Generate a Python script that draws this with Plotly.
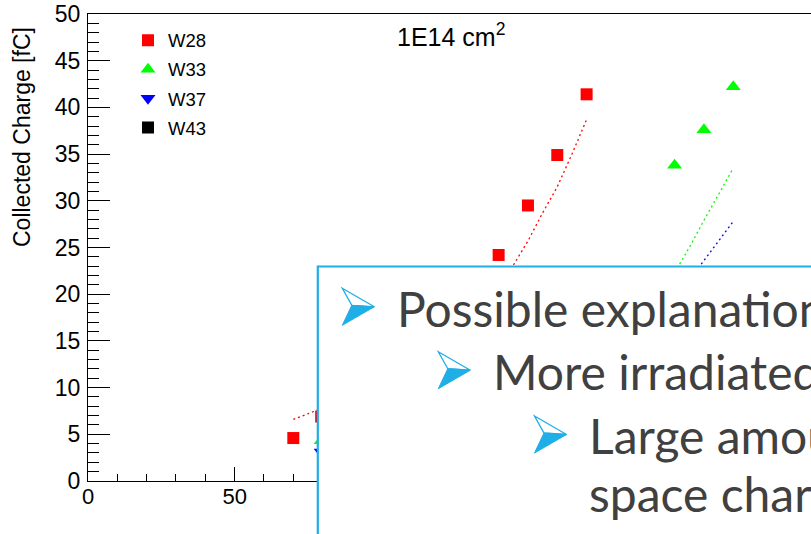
import plotly.graph_objects as go

# ---------------- data ----------------
series_names = ["W28", "W33", "W37", "W43"]
series_colors = ["#ff0000", "#00ff00", "#0000ff", "#000000"]
series_symbols = ["square", "triangle-up", "triangle-down", "square"]

x_w28 = [70, 79.5, 140, 150, 160, 170]
y_w28 = [4.6, 6.9, 24.2, 29.5, 34.9, 41.4]
x_w33 = [79.5, 200, 210, 220]
y_w33 = [4.3, 33.8, 37.6, 42.2]
x_w37 = [79.5]
y_w37 = [3.1]
x_w43 = [100]
y_w43 = [2.8]

sim_x_w28 = [70, 75, 80, 145, 150, 155, 160, 165, 170]
sim_y_w28 = [6.6, 7.2, 7.8, 23.1, 25.7, 28.7, 31.5, 35.0, 38.7]
sim_x_w33 = [200, 205, 210, 215, 220]
sim_y_w33 = [22.3, 25.0, 27.9, 30.7, 33.5]
sim_x_w37 = [205, 210, 215, 220]
sim_y_w37 = [21.5, 23.6, 25.7, 27.8]

title_text = "1E14 cm<sup>2</sup>"
y_title = "Collected Charge [fC]"
x_tick_vals = [0, 50, 100, 150, 200]
y_tick_vals = [0, 5, 10, 15, 20, 25, 30, 35, 40, 45, 50]

box_lines = [
    "Possible explanation:",
    "More irradiated sensors",
    "Large amount of",
    "space charge",
]

# ---------------- layout helpers ----------------
W, H = 811, 534
ML, MR, MT, MB = 88, 0, 14, 53
PW = W - ML - MR
PH = H - MT - MB
X_PER_PX = 1 / 2.933


def px(x):
    return (x - ML) / PW


def py(y):
    return (H - MB - y) / PH


FONT = "Liberation Sans, Arial, Helvetica, sans-serif"
BLUE = "#1faee6"
GREY = "#404040"

fig = go.Figure()

series = [(x_w28, y_w28), (x_w33, y_w33), (x_w37, y_w37), (x_w43, y_w43)]
for (xs, ys), name, col, sym in zip(series, series_names, series_colors, series_symbols):
    fig.add_trace(go.Scatter(
        x=xs, y=ys, mode="markers", name=name, legendgroup=name,
        marker=dict(symbol=sym, color=col, size=12 if sym == "square" else 13,
                    line=dict(width=0)),
    ))

sims = [(sim_x_w28, sim_y_w28, series_colors[0]),
        (sim_x_w33, sim_y_w33, series_colors[1]),
        (sim_x_w37, sim_y_w37, series_colors[2])]
for xs, ys, col in sims:
    fig.add_trace(go.Scatter(
        x=xs, y=ys, mode="lines", showlegend=False, hoverinfo="skip",
        line=dict(color=col, width=1.3, dash="2px,3px"),
    ))

shapes = []
# slide text box overlay
shapes.append(dict(type="rect", xref="paper", yref="paper", layer="above",
                   x0=px(317.8), x1=px(830), y0=py(266.5), y1=py(560),
                   fillcolor="white", line=dict(color=BLUE, width=2.2)))

# arrow bullets
for L, T in [(342.3, 288.3), (438.3, 351.7), (534.5, 416.0)]:
    A = (L, T)
    Tip = (L + 32, T + 18.5)
    B = (L, T + 37)
    N = (L + 9.5, T + 17)
    up = "M{},{} L{},{} L{},{} Z".format(px(A[0]), py(A[1]), px(Tip[0]), py(Tip[1]), px(N[0]), py(N[1]))
    lo = "M{},{} L{},{} L{},{} Z".format(px(N[0]), py(N[1]), px(Tip[0]), py(Tip[1]), px(B[0]), py(B[1]))
    shapes.append(dict(type="path", xref="paper", yref="paper", layer="above", path=up,
                       fillcolor="white", line=dict(color=BLUE, width=1.3)))
    shapes.append(dict(type="path", xref="paper", yref="paper", layer="above", path=lo,
                       fillcolor=BLUE, line=dict(color=BLUE, width=1)))

annotations = []
annotations.append(dict(text=title_text, xref="paper", yref="paper", x=px(395), y=py(35),
                        xanchor="left", yanchor="middle", showarrow=False,
                        font=dict(family=FONT, size=25, color="black")))
annotations.append(dict(text=y_title, xref="paper", yref="paper", x=px(22), y=py(137),
                        xanchor="center", yanchor="middle", textangle=-90, showarrow=False,
                        font=dict(family=FONT, size=23, color="black")))

BOXFONT = "Lato, Carlito, Calibri, sans-serif"
text_pos = [(395, 308.5), (491, 371.5), (587, 436.0), (587, 493.5)]
for t, (xx, yy) in zip(box_lines, text_pos):
    annotations.append(dict(text=t, xref="paper", yref="paper", x=px(xx), y=py(yy),
                            xanchor="left", yanchor="middle", align="left", showarrow=False,
                            font=dict(family=BOXFONT, size=48, color=GREY)))

fig.update_layout(
    width=W, height=H,
    margin=dict(l=ML, r=MR, t=MT, b=MB, pad=0),
    paper_bgcolor="white", plot_bgcolor="white",
    font=dict(family=FONT, size=22, color="black"),
    showlegend=True,
    legend=dict(x=px(128), y=py(21.7), xanchor="left", yanchor="top",
                bgcolor="rgba(0,0,0,0)", font=dict(family=FONT, size=18.5, color="black"),
                tracegroupgap=2, itemclick=False),
    shapes=shapes,
    annotations=annotations,
    xaxis=dict(range=[0, PW * X_PER_PX], showgrid=False, zeroline=False,
               showline=True, linecolor="black", linewidth=1, mirror=True,
               ticks="inside", ticklen=14, tickwidth=1, tickcolor="black",
               tickvals=x_tick_vals, ticklabelstandoff=-4,
               minor=dict(dtick=10, tick0=0, ticks="inside", ticklen=7, tickcolor="black", tickwidth=1),
               tickfont=dict(family=FONT, size=22, color="black")),
    yaxis=dict(range=[0, 50], showgrid=False, zeroline=False,
               showline=True, linecolor="black", linewidth=1, mirror=False,
               ticks="inside", ticklen=22, tickwidth=1, tickcolor="black",
               tickvals=y_tick_vals, ticklabelstandoff=2,
               minor=dict(dtick=1, tick0=0, ticks="inside", ticklen=11, tickcolor="black", tickwidth=1),
               tickfont=dict(family=FONT, size=23, color="black")),
)

fig.write_html("out.html")
